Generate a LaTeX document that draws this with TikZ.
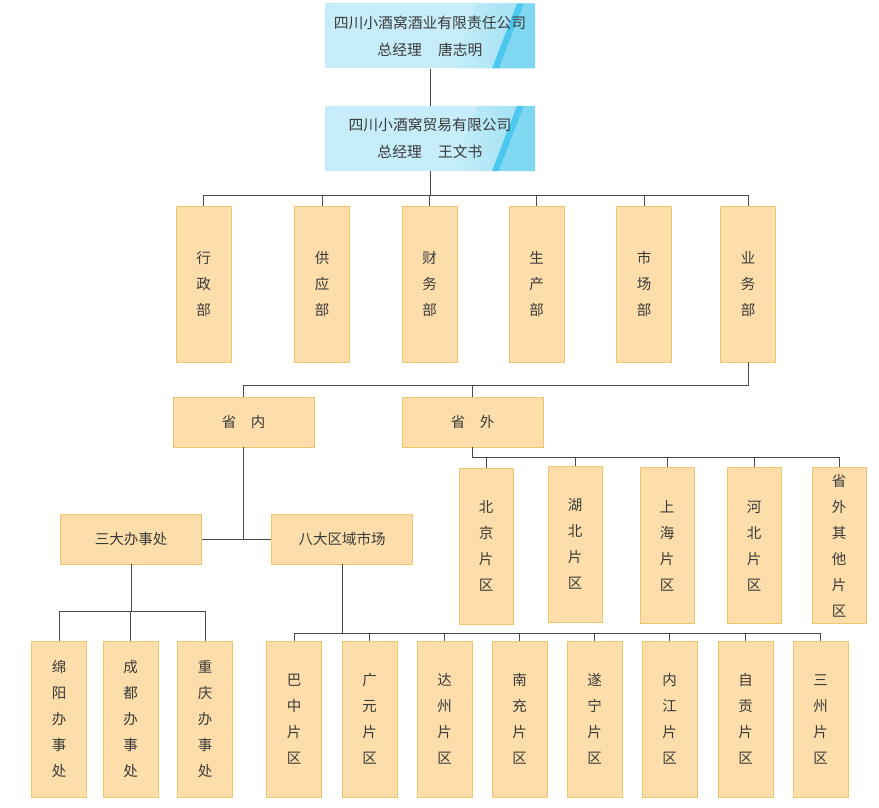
\documentclass[tikz,border=0pt]{standalone}
\usepackage{fontspec}
\usepackage{tikz}
\usetikzlibrary{positioning,calc}
\setmainfont{Noto Sans CJK SC}
\usepackage{xcolor}
\definecolor{peach}{HTML}{FDDEAB}
\definecolor{peachline}{HTML}{EDC76E}
\definecolor{linegray}{HTML}{4A4A4A}
\definecolor{txtgray}{HTML}{3A3A3A}
\definecolor{topA}{HTML}{C6EDF9}
\definecolor{topB}{HTML}{A4E2F5}
\definecolor{topC}{HTML}{4CC8EE}
\definecolor{topD}{HTML}{7FD7F2}
\tikzset{
  topbox/.style={fill=topA, minimum width=210pt, minimum height=65pt, align=center, text=txtgray, font=\fontsize{14.8pt}{27pt}\selectfont,
    path picture={
      \coordinate (ne) at (path picture bounding box.north east);
      \coordinate (se) at (path picture bounding box.south east);
      \shade[left color=topA, right color=topB] ($(ne)+(-58,0)$) -- ($(ne)+(-18,0)$) -- ($(se)+(-43,0)$) -- ($(se)+(-83,0)$) -- cycle;
      \fill[topC] ($(ne)+(-18,0)$) -- ($(ne)+(-11,0)$) -- ($(se)+(-36,0)$) -- ($(se)+(-43,0)$) -- cycle;
      \fill[topD] ($(ne)+(-11,0)$) -- (ne) -- (se) -- ($(se)+(-36,0)$) -- cycle;
    }},
  tallbox/.style={draw=peachline, fill=peach, minimum width=55pt, minimum height=156pt, align=center, text=txtgray, font=\fontsize{14.5pt}{26pt}\selectfont},
  widebox/.style={draw=peachline, fill=peach, minimum width=141pt, minimum height=50pt, align=center, text=txtgray, font=\fontsize{14.5pt}{26pt}\selectfont},
  link/.style={draw=linegray, line width=1pt}
}
\begin{document}
\begin{tikzpicture}[x=1pt, y=-1pt]
        \useasboundingbox (0,0) rectangle (879,808);
        % company
        \node[topbox] (group) at (430,36) {四川小酒窝酒业有限责任公司\\总经理\hspace{1.1em}唐志明};
        \node[topbox] (trade) at (430,138.5) {四川小酒窝贸易有限公司\\总经理\hspace{1.1em}王文书};
        % departments
        \node[tallbox] (admin) at (203.5,284) {行\\政\\部};
        \node[tallbox] (supply) at (322,284) {供\\应\\部};
        \node[tallbox] (finance) at (429.5,284) {财\\务\\部};
        \node[tallbox] (prod) at (536.5,284) {生\\产\\部};
        \node[tallbox] (market) at (644,284) {市\\场\\部};
        \node[tallbox] (sales) at (748,284) {业\\务\\部};
        % sales regions
        \node[widebox] (inner) at (243.5,422) {省\hspace{1em}内};
        \node[widebox] (outer) at (472.5,422) {省\hspace{1em}外};
        \node[widebox] (office) at (131,539) {三大办事处};
        \node[widebox] (eight) at (342,539) {八大区域市场};
        \node[tallbox, minimum width=54pt] (beijing) at (486,546) {北\\京\\片\\区};
        \node[tallbox, minimum width=54pt] (hubei) at (575,544) {湖\\北\\片\\区};
        \node[tallbox, minimum width=54pt] (shanghai) at (667,545.5) {上\\海\\片\\区};
        \node[tallbox, minimum width=54pt] (hebei) at (754,545.5) {河\\北\\片\\区};
        \node[tallbox, minimum width=54pt] (other) at (839,545.5) {省\\外\\其\\他\\片\\区};
        \node[tallbox] (mianyang) at (59,719) {绵\\阳\\办\\事\\处};
        \node[tallbox] (chengdu) at (130.5,719) {成\\都\\办\\事\\处};
        \node[tallbox] (chongqing) at (205,719) {重\\庆\\办\\事\\处};
        \node[tallbox] (bazhong) at (294,719) {巴\\中\\片\\区};
        \node[tallbox] (guangyuan) at (369.5,719) {广\\元\\片\\区};
        \node[tallbox] (dazhou) at (444.5,719) {达\\州\\片\\区};
        \node[tallbox] (nanchong) at (519.5,719) {南\\充\\片\\区};
        \node[tallbox] (suining) at (594.5,719) {遂\\宁\\片\\区};
        \node[tallbox] (neijiang) at (669.5,719) {内\\江\\片\\区};
        \node[tallbox] (zigong) at (745.5,719) {自\\贡\\片\\区};
        \node[tallbox] (sanzhou) at (820.5,719) {三\\州\\片\\区};
        % links
        \draw[link] (group.south) -- (trade.north);
        \draw[link] (trade.south) -- ++(0,24) -| (admin.north);
        \draw[link] (trade.south) -- ++(0,24) -| (supply.north);
        \draw[link] (trade.south) -- ++(0,24) -| (finance.north);
        \draw[link] (trade.south) -- ++(0,24) -| (prod.north);
        \draw[link] (trade.south) -- ++(0,24) -| (market.north);
        \draw[link] (trade.south) -- ++(0,24) -| (sales.north);
        \draw[link] (sales.south) -- ++(0,23) -| (inner.north);
        \draw[link] (sales.south) -- ++(0,23) -| (outer.north);
        \draw[link] (inner.south) -- (inner.south |- office.east);
        \draw[link] (office.east) -- (eight.west);
        \draw[link] (outer.south) -- ++(0,10) -| (beijing.north);
        \draw[link] (outer.south) -- ++(0,10) -| (hubei.north);
        \draw[link] (outer.south) -- ++(0,10) -| (shanghai.north);
        \draw[link] (outer.south) -- ++(0,10) -| (hebei.north);
        \draw[link] (outer.south) -- ++(0,10) -| (other.north);
        \draw[link] (office.south) -- ++(0,47) -| (mianyang.north);
        \draw[link] (office.south) -- ++(0,47) -| (chengdu.north);
        \draw[link] (office.south) -- ++(0,47) -| (chongqing.north);
        \draw[link] (eight.south) -- ++(0,69) -| (bazhong.north);
        \draw[link] (eight.south) -- ++(0,69) -| (guangyuan.north);
        \draw[link] (eight.south) -- ++(0,69) -| (dazhou.north);
        \draw[link] (eight.south) -- ++(0,69) -| (nanchong.north);
        \draw[link] (eight.south) -- ++(0,69) -| (suining.north);
        \draw[link] (eight.south) -- ++(0,69) -| (neijiang.north);
        \draw[link] (eight.south) -- ++(0,69) -| (zigong.north);
        \draw[link] (eight.south) -- ++(0,69) -| (sanzhou.north);
    \end{tikzpicture}
\end{document}
